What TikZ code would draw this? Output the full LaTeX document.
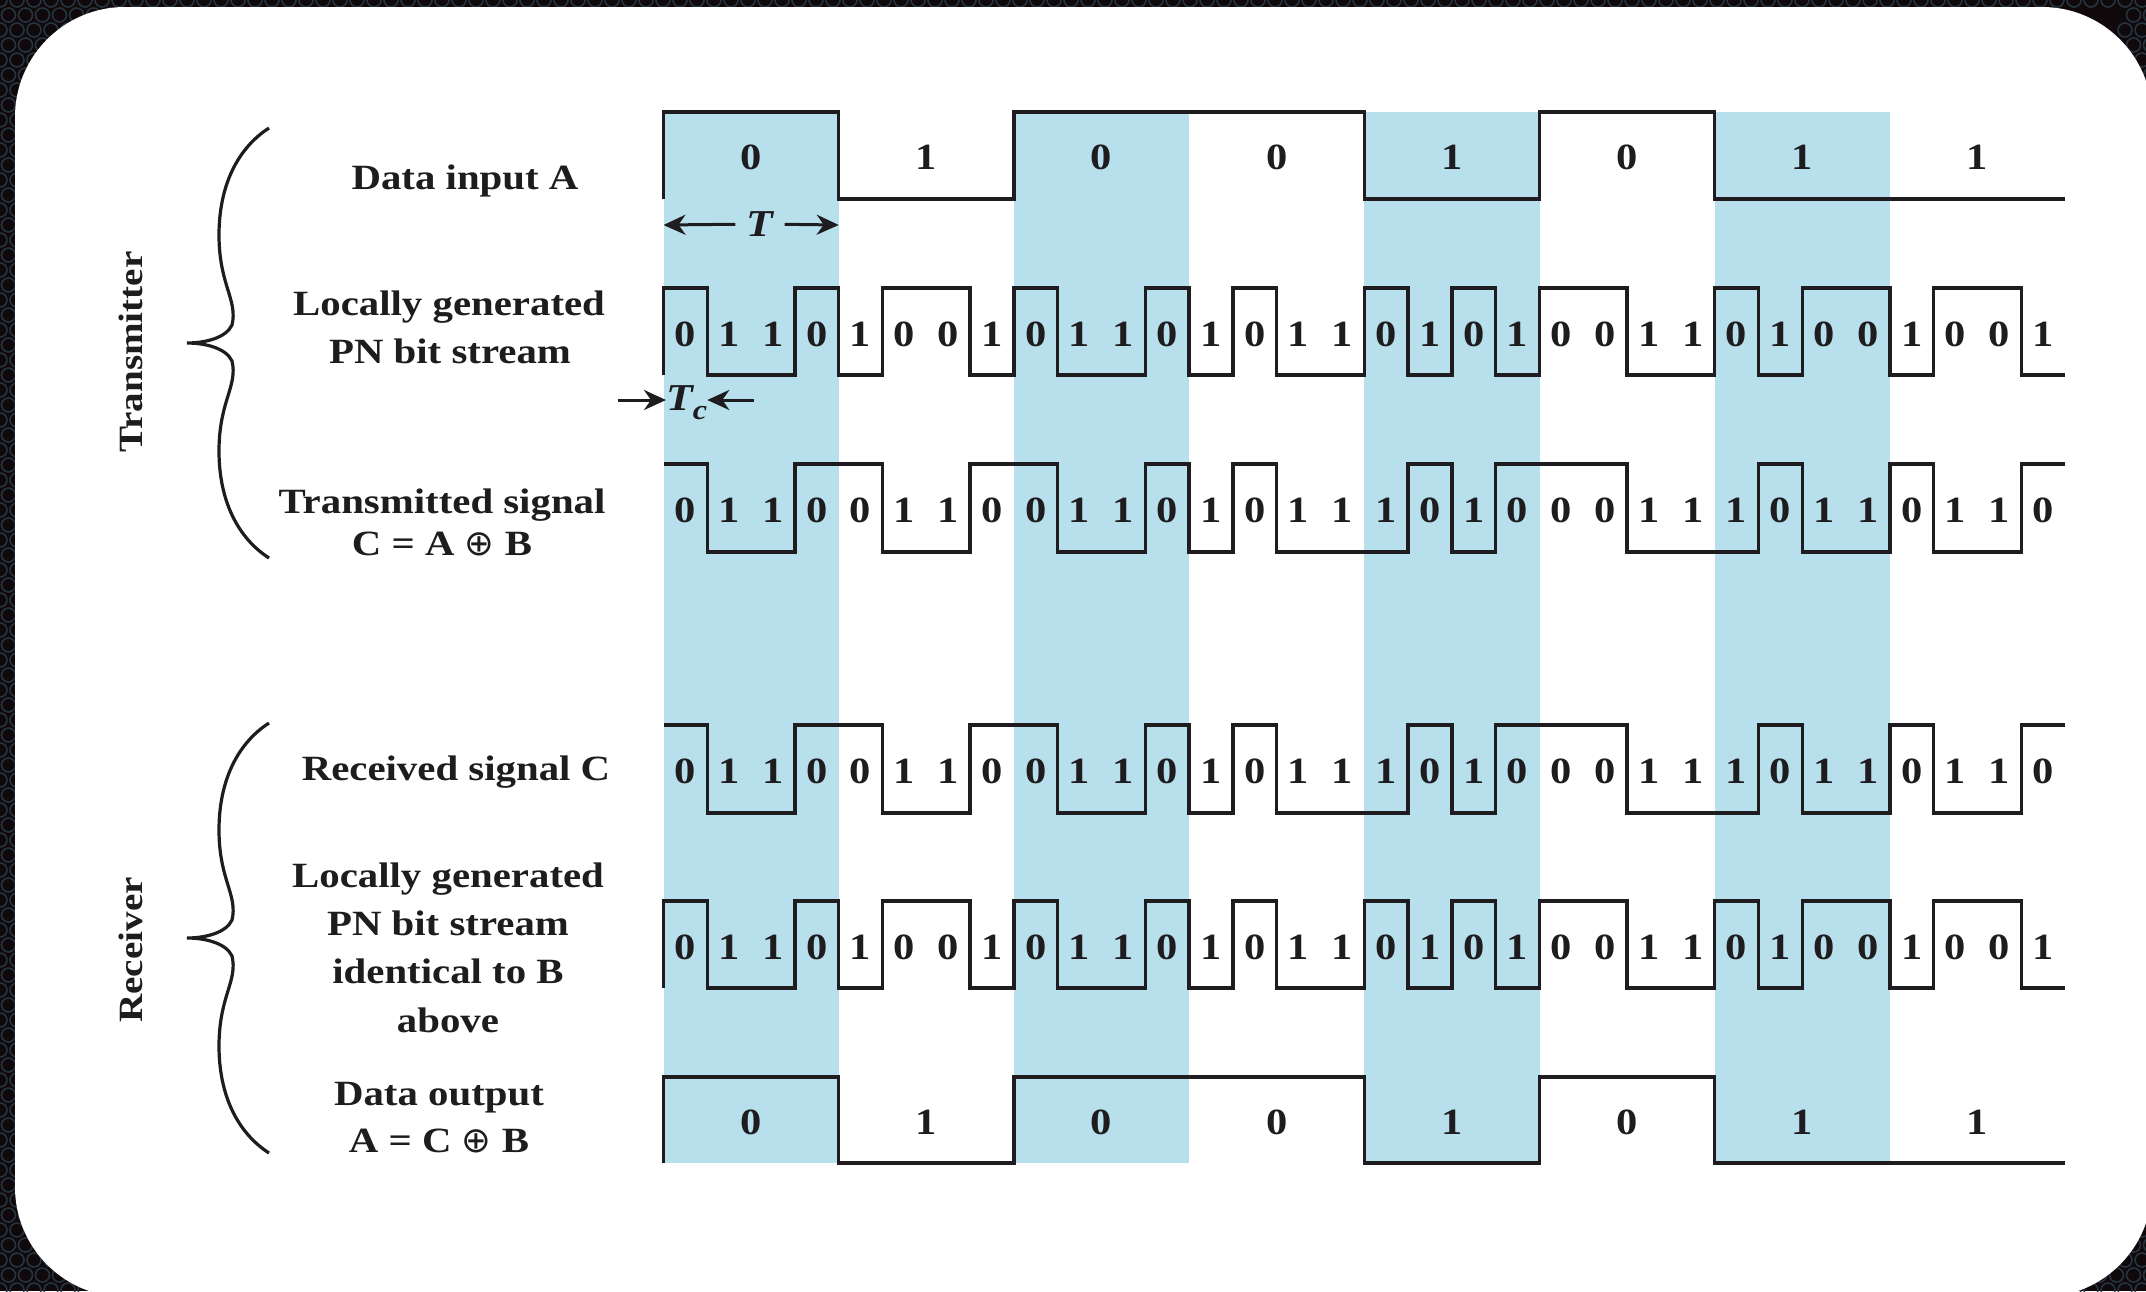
\documentclass[tikz,border=0pt]{standalone}
\usepackage{fontspec}
\setmainfont{Liberation Serif}[FakeStretch=1.15]
\newfontfamily\symfont{DejaVu Sans}
\usetikzlibrary{arrows.meta}
\definecolor{colshade}{RGB}{184,224,236}
\definecolor{bgdark}{RGB}{16,9,12}
\definecolor{bgring}{RGB}{38,52,64}
\definecolor{ink}{RGB}{30,28,30}
\newcommand\xz{663.5}
\newcommand\cw{43.8}
% waveform: #1 y high, #2 y low, #3 start level, #4 runs level/end-chip
\newcommand\wave[4]{\draw[wave] (\xz,{#1+#3*(#2-#1)}) \foreach \v/\e in {#4} { |- ({\xz+\e*\cw},{#1+\v*(#2-#1)}) };}
\newcommand\chips[3]{\foreach \b [count=\i from 0] in {#3} \node[digit] (#2\i) at ({\xz+(\i+0.5)*\cw},#1) {\b};}
\newcommand\bits[3]{\foreach \b [count=\i from 0] in {#3} \node[digit] (#2\i) at ({\xz+(\i+0.5)*4*\cw},#1) {\b};}
\newcommand\curly[1]{%
\draw[brace] (269,{#1-215}) .. controls (238,{#1-195}) and (219,{#1-158}) .. (219,{#1-108})
 .. controls (219,{#1-58}) and (238,{#1-43}) .. (232,{#1-18})
 .. controls (226,{#1-5}) and (205,#1) .. (187,#1)
 .. controls (205,#1) and (226,{#1+5}) .. (232,{#1+18})
 .. controls (238,{#1+43}) and (219,{#1+58}) .. (219,{#1+108})
 .. controls (219,{#1+158}) and (238,{#1+195}) .. (269,{#1+215});}
\tikzset{
 wave/.style={draw=ink, line width=3.4pt, line join=miter, line cap=butt},
 digit/.style={font=\fontsize{37}{37}\selectfont\bfseries, inner sep=0pt, text=ink},
 lab/.style={font=\fontsize{35.5}{40}\selectfont\bfseries, inner sep=0pt, anchor=base, text=ink},
 side/.style={font=\fontsize{34}{40}\selectfont\bfseries, inner sep=0pt, rotate=90, text=ink},
 brace/.style={draw=ink, line width=3.2pt},
 arr/.style={draw=ink, line width=3pt, -{Stealth[length=22pt,width=20pt,inset=7pt]}},
 ring/.style={draw=bgring, line width=1.6pt},
 tsym/.style={font=\fontsize{38}{38}\selectfont\bfseries\itshape, text=ink},
}
\begin{document}
\begin{tikzpicture}[x=1pt,y=-1pt]
\useasboundingbox (0,0) rectangle (2146,1291);
% background frame
\fill[bgdark] (0,0) rectangle (2146,1291);
\foreach \r in {0,85,86} \foreach \c in {0,...,126} \draw[ring] ({\c*17+mod(\r,2)*8.5},{\r*15}) circle[radius=7];
\foreach \r in {1,...,84} \foreach \c in {0,1,125,126} \draw[ring] ({\c*17+mod(\r,2)*8.5},{\r*15}) circle[radius=7];
\foreach \r in {1,...,8} \foreach \c in {2,...,8,118,...,124} \draw[ring] ({\c*17+mod(\r,2)*8.5},{\r*15}) circle[radius=7];
\foreach \r in {78,...,84} \foreach \c in {2,...,8,118,...,124} \draw[ring] ({\c*17+mod(\r,2)*8.5},{\r*15}) circle[radius=7];
\fill[white, rounded corners=110pt] (15,7) rectangle (2152,1297);
% shaded columns
\foreach \k in {0,2,4,6} \fill[fill=colshade] ({\xz+\k*4*\cw},112) rectangle ({\xz+(\k+1)*4*\cw},1163);
% waveforms
\wave{112}{199}{1}{0/4,1/8,0/16,1/20,0/24,1/32}
\wave{288}{375}{1}{0/1,1/3,0/4,1/5,0/7,1/8,0/9,1/11,0/12,1/13,0/14,1/16,0/17,1/18,0/19,1/20,0/22,1/24,0/25,1/26,0/28,1/29,0/31,1/32}
\wave{464}{552}{0}{0/1,1/3,0/5,1/7,0/9,1/11,0/12,1/13,0/14,1/17,0/18,1/19,0/22,1/25,0/26,1/28,0/29,1/31,0/32}
\wave{725}{813}{0}{0/1,1/3,0/5,1/7,0/9,1/11,0/12,1/13,0/14,1/17,0/18,1/19,0/22,1/25,0/26,1/28,0/29,1/31,0/32}
\wave{901}{988}{1}{0/1,1/3,0/4,1/5,0/7,1/8,0/9,1/11,0/12,1/13,0/14,1/16,0/17,1/18,0/19,1/20,0/22,1/24,0/25,1/26,0/28,1/29,0/31,1/32}
\wave{1077}{1163}{1}{0/4,1/8,0/16,1/20,0/24,1/32}
% digits
\bits{157}{a}{0,1,0,0,1,0,1,1}
\chips{334}{b}{0,1,1,0,1,0,0,1,0,1,1,0,1,0,1,1,0,1,0,1,0,0,1,1,0,1,0,0,1,0,0,1}
\chips{510}{c}{0,1,1,0,0,1,1,0,0,1,1,0,1,0,1,1,1,0,1,0,0,0,1,1,1,0,1,1,0,1,1,0}
\chips{771}{rc}{0,1,1,0,0,1,1,0,0,1,1,0,1,0,1,1,1,0,1,0,0,0,1,1,1,0,1,1,0,1,1,0}
\chips{947}{rb}{0,1,1,0,1,0,0,1,0,1,1,0,1,0,1,1,0,1,0,1,0,0,1,1,0,1,0,0,1,0,0,1}
\bits{1122}{o}{0,1,0,0,1,0,1,1}
% T and Tc
\node[tsym, inner xsep=11pt, inner ysep=0pt] (T) at (760,224) {T};
\coordinate (Tl) at (\xz,225);
\coordinate (Tr) at ({\xz+4*\cw},225);
\draw[arr] (T) -- (Tl);
\draw[arr] (T) -- (Tr);
\node[tsym, inner sep=0pt, anchor=base west] (Tc) at (666,410) {T\raisebox{-9pt}{\fontsize{28}{28}\selectfont c}};
\coordinate (tcL) at (618,400);
\coordinate (tcR) at (754,400);
\draw[arr] (tcL) -- (tcL -| Tc.west);
\draw[arr] (tcR) -- ({\xz+\cw},400);
% labels
\node[lab] (l1) at (465,189) {Data input A};
\node[lab] (l2) at (449,315) {Locally generated};
\node[lab] (l3) at (450,363) {PN bit stream};
\node[lab] (l4) at (442,513) {Transmitted signal};
\node[lab] (l5) at (442,555) {C = A {\symfont\mdseries ⊕} B};
\node[lab] (l6) at (456,780) {Received signal C};
\node[lab] (l7) at (448,887) {Locally generated};
\node[lab] (l8) at (448,935) {PN bit stream};
\node[lab] (l9) at (448,983) {identical to B};
\node[lab] (l10) at (448,1032) {above};
\node[lab] (l11) at (439,1105) {Data output};
\node[lab] (l12) at (439,1152) {A = C {\symfont\mdseries ⊕} B};
% braces and side labels
\curly{343}
\curly{938}
\node[side] (tx) at (131,352) {Transmitter};
\node[side] (rx) at (131,950) {Receiver};
\end{tikzpicture}
\end{document}
